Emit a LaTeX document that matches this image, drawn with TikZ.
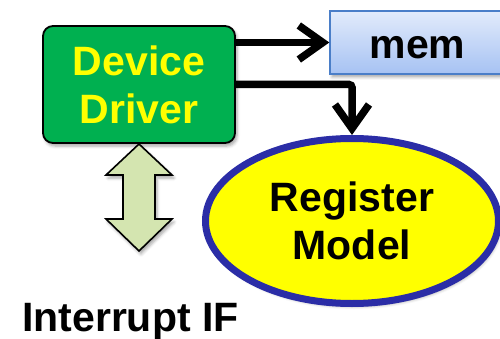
\documentclass[tikz,border=0pt]{standalone}
\usepackage{fontspec}
\setmainfont{Liberation Sans}
\usetikzlibrary{arrows.meta,shapes.geometric,shadows.blur}

\definecolor{drvgreen}{HTML}{00B050}
\definecolor{drvtext}{HTML}{FFFF00}
\definecolor{memtop}{HTML}{E2EBFB}
\definecolor{membot}{HTML}{A6C2F3}
\definecolor{memedge}{HTML}{4A7EC8}
\definecolor{regfill}{HTML}{FFFF00}
\definecolor{regedge}{HTML}{2B2DA6}
\definecolor{irqfill}{HTML}{D4E5B0}

\tikzset{
  bigtext/.style={font=\fontsize{41}{48}\selectfont\bfseries, align=center},
  softshadow/.style={blur shadow={shadow xshift=2pt, shadow yshift=-3pt,
      shadow blur radius=3pt, shadow opacity=35}},
  drvbox/.style={bigtext, softshadow, rectangle, rounded corners=10pt,
      draw=black, line width=1.8pt, fill=drvgreen, text=drvtext,
      minimum width=192pt, minimum height=117pt, inner sep=0pt},
  membox/.style={bigtext, softshadow, rectangle, draw=memedge, line width=1.4pt,
      top color=memtop, bottom color=membot, text height=33pt, text depth=0pt,
      minimum width=175pt, minimum height=63pt, inner sep=0pt},
  regnode/.style={bigtext, softshadow, ellipse, draw=regedge, line width=7pt,
      fill=regfill, minimum width=293pt, minimum height=165pt, inner sep=0pt},
  flow/.style={line width=7.5pt, rounded corners=3pt,
      -{Straight Barb[length=24pt,width=34pt]}},
}

\begin{document}
\begin{tikzpicture}[x=1pt, y=-1pt]
  \useasboundingbox (0,0) rectangle (500,339);

  % driver, memory and register model
  \node[drvbox] (dd) at (139,84.5) {Device\\Driver};
  \node[membox] (mem) at (417.5,42.5) {mem};
  \node[regnode] (reg) at (352,221) {Register\\Model};

  % interrupt interface: two-headed block arrow
  \draw[softshadow, fill=irqfill, draw=black, line width=1.6pt, line join=miter]
    (139,144) -- (172,175) -- (155,175) -- (155,219) -- (172,219) -- (139,251)
    -- (106,219) -- (123,219) -- (123,175) -- (106,175) -- cycle;
  \node[bigtext, anchor=base west, inner sep=0pt] (irq) at (22,331) {Interrupt IF};

  % connectors
  \draw[flow] (dd.east |- mem.west) -- (mem.west);
  \draw[flow] (dd.east) -| (reg.north);
\end{tikzpicture}
\end{document}
